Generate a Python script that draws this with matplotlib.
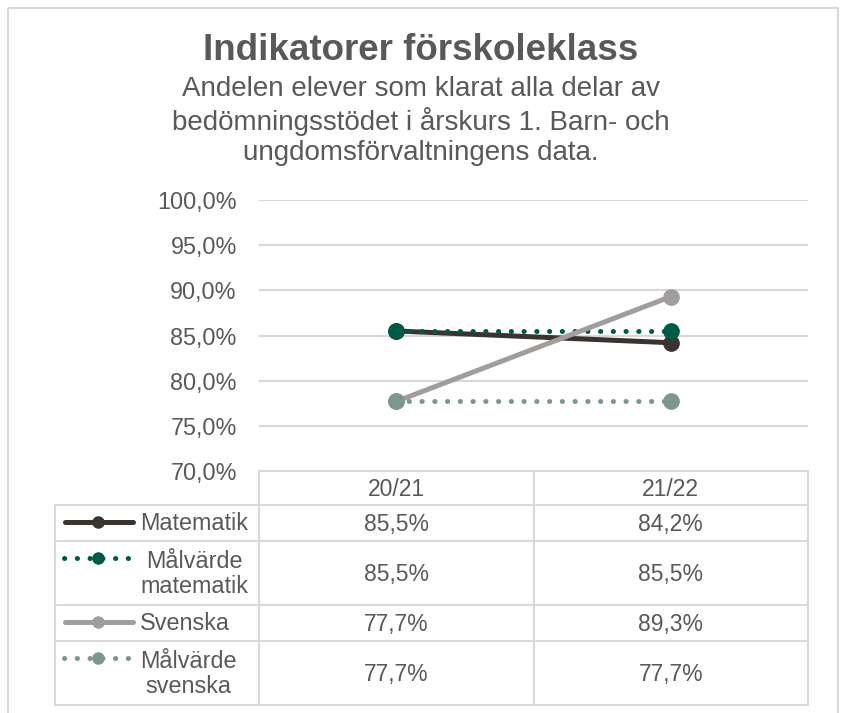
import matplotlib
matplotlib.use("Agg")
import matplotlib.pyplot as plt
from matplotlib.lines import Line2D
from matplotlib.patches import Rectangle
from matplotlib.ticker import FuncFormatter

plt.rcParams['font.family'] = ['Liberation Sans', 'DejaVu Sans']

# data
years = ['20/21', '21/22']
series_names = ['Matematik', 'Målvärde\nmatematik', 'Svenska', 'Målvärde\nsvenska']
matematik = [85.5, 84.2]
malvarde_matematik = [85.5, 85.5]
svenska = [77.7, 89.3]
malvarde_svenska = [77.7, 77.7]
y_ticks = [70, 75, 80, 85, 90, 95, 100]

title = 'Indikatorer förskoleklass'
subtitle_lines = ['Andelen elever som klarat alla delar av',
                  'bedömningsstödet i årskurs 1. Barn- och',
                  'ungdomsförvaltningens data.']

all_values = [matematik, malvarde_matematik, svenska, malvarde_svenska]
colors = ['#3B3330', '#005A46', '#A29D9D', '#7D988A']
solid = [True, False, True, False]

txt = '#595959'
grid = '#D9D9D9'
W, H = 842, 713
LW = 3.6
DOTS = (0, (0.05, 2.5))

fig = plt.figure(figsize=(W / 100, H / 100), dpi=100)

# background layer in pixel coords (frame, titles, table, legend keys)
bg = fig.add_axes([0, 0, 1, 1])
bg.set_xlim(0, W)
bg.set_ylim(H, 0)
bg.axis('off')
bg.add_patch(Rectangle((8, 8), 830, 720, fill=False, ec=grid, lw=1.5))

bg.text(421, 51, title, ha='center', va='center', fontsize=26.5,
        fontweight='bold', color=txt)
for i, line in enumerate(subtitle_lines):
    bg.text(421, 89 + 32 * i, line, ha='center', va='center', fontsize=20,
            color=txt)

# plot area
x0, x1, ytop, ybot = 259, 808, 200, 471
ax = fig.add_axes([x0 / W, 1 - ybot / H, (x1 - x0) / W, (ybot - ytop) / H])
ax.set_xlim(-0.5, len(years) - 0.5)
ax.set_ylim(y_ticks[0], y_ticks[-1])
ax.set_yticks(y_ticks)
ax.yaxis.set_major_formatter(FuncFormatter(lambda v, p: f'{v:.1f}%'.replace('.', ',')))
ax.tick_params(axis='y', length=0, pad=16, labelsize=16.8, labelcolor=txt)
ax.set_xticks([])
ax.grid(axis='y', color=grid, lw=1.5)
for s in ax.spines.values():
    s.set_visible(False)
ax.patch.set_alpha(0)

xs = list(range(len(years)))
for vals, c, sol in zip(all_values, colors, solid):
    if sol:
        ax.plot(xs, vals, color=c, lw=LW, marker='o', ms=11,
                solid_capstyle='round', clip_on=False)
    else:
        ax.plot(xs, vals, color=c, lw=LW, linestyle=DOTS,
                dash_capstyle='round', marker='o', ms=11, clip_on=False)

# data table
col_edges = [x0, (x0 + x1) / 2, x1]
row_edges = [505, 541, 605, 641, 705]
leg_left = 55
lc = grid
lwt = 1.5
bg.plot([x0, x1], [471, 471], color=lc, lw=lwt)
for x in col_edges:
    bg.plot([x, x], [471, row_edges[-1]], color=lc, lw=lwt)
bg.plot([leg_left, leg_left], [row_edges[0], row_edges[-1]], color=lc, lw=lwt)
for y in row_edges:
    bg.plot([leg_left, x1], [y, y], color=lc, lw=lwt)

for i, yr in enumerate(years):
    xc = (col_edges[i] + col_edges[i + 1]) / 2
    bg.text(xc, 489, yr, ha='center', va='center', fontsize=16.5, color=txt)

for r, (name, vals, c, sol) in enumerate(zip(series_names, all_values, colors, solid)):
    yc = (row_edges[r] + row_edges[r + 1]) / 2
    for i, v in enumerate(vals):
        xc = (col_edges[i] + col_edges[i + 1]) / 2
        bg.text(xc, yc + 1, f'{v:.1f}%'.replace('.', ','), ha='center',
                va='center', fontsize=16.5, color=txt)
    ly = row_edges[r] + 17
    if sol:
        bg.add_line(Line2D([65, 133], [ly, ly], color=c, lw=LW,
                           solid_capstyle='round'))
    else:
        bg.add_line(Line2D([64, 134], [ly, ly], color=c, lw=LW,
                           linestyle=DOTS, dash_capstyle='round'))
    bg.add_line(Line2D([98], [ly], color=c, marker='o', ms=8, lw=0))
    bg.text(140, yc + 1, name, ha='left', va='center', fontsize=16.8,
            color=txt, multialignment='center', linespacing=1.1)

fig.savefig('out.png', dpi=100)
